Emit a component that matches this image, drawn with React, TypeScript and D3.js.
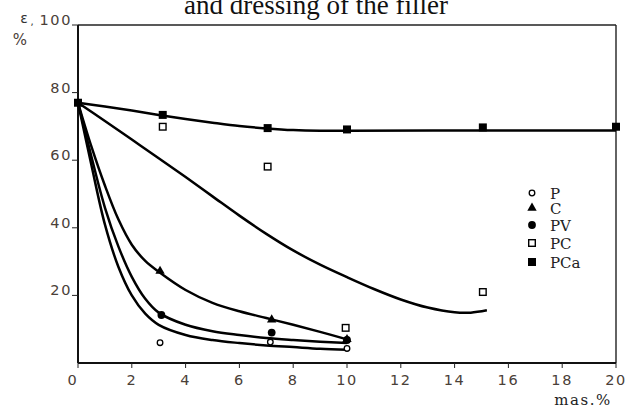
import React from "react";
import * as d3 from "d3";

const W = 632;
const H = 408;

// axis ticks
const xTicks = [0, 2, 4, 6, 8, 10, 12, 14, 16, 18, 20];
const yTicks = [20, 40, 60, 80, 100];

// fitted curves (x = mas.%, y = ε %)
const curveP: [number, number][] = [
  [0, 77], [0.5, 58.5], [1, 41], [1.5, 28.5], [2, 20], [2.5, 14.6], [3, 11.3],
  [4, 8.3], [5, 6.8], [6, 5.9], [7, 5.2], [8, 4.7], [9, 4.2], [10, 3.9],
];
const curvePV: [number, number][] = [
  [0, 77], [0.5, 61], [1, 46], [1.5, 34.5], [2, 25.5], [2.5, 19], [3, 14.9],
  [4, 11.3], [5, 9.4], [6, 8.3], [7, 7.4], [8, 6.8], [9, 6.3], [10, 5.9],
];
const curveC: [number, number][] = [
  [0, 77], [0.5, 64], [1, 52.5], [1.5, 42.5], [2, 35], [2.5, 30.2], [3, 27],
  [4, 21.6], [5, 17.8], [6, 15.3], [7, 13.3], [8, 11.3], [9, 9.2], [10, 7],
];
const curvePC: [number, number][] = [
  [0, 77], [1, 71.6], [2, 66.1], [3, 60.6], [4, 55], [5, 49.3], [6, 43.6], [7, 38.2],
  [8, 33.3], [9, 29.1], [10, 25.4], [11, 21.9], [12, 18.8], [13, 16.4], [14, 15],
  [14.6, 14.9], [15.2, 15.6],
];
const curvePCa: [number, number][] = [
  [0, 77], [1, 75.9], [2, 74.7], [3, 73.4], [4, 72.2], [5, 71.1], [6, 70.1], [7, 69.4],
  [8, 68.9], [9, 68.7], [10, 68.7], [15, 68.8], [20, 68.8],
];

// measured points
const ptsP: [number, number][] = [[3.05, 6.0], [7.15, 6.2], [10, 4.3]];
const ptsC: [number, number][] = [[3.05, 27.2], [7.2, 12.8], [10, 7]];
const ptsPV: [number, number][] = [[3.1, 14.2], [7.2, 9], [10, 6.8]];
const ptsPC: [number, number][] = [[3.15, 69.9], [7.05, 58.1], [9.95, 10.4], [15.05, 21]];
const ptsPCa: [number, number][] = [[0, 77], [3.15, 73.4], [7.05, 69.5], [10, 69.1], [15.05, 69.7], [20, 69.9]];

const legendNames = ["P", "C", "PV", "PC", "PCa"];

const x = d3.scaleLinear().domain([0, 20]).range([78, 616]);
const y = d3.scaleLinear().domain([0, 100]).range([363, 25]);

const line = d3
  .line<[number, number]>()
  .x((d) => x(d[0]))
  .y((d) => y(d[1]))
  .curve(d3.curveCatmullRom.alpha(0.5));

const tri = d3.symbol().type(d3.symbolTriangle).size(38)() as string;

function Marker({ kind, cx, cy }: { kind: string; cx: number; cy: number }) {
  if (kind === "P")
    return <circle cx={cx} cy={cy} r={2.8} fill="#fff" stroke="#000" strokeWidth={1.3} />;
  if (kind === "PV") return <circle cx={cx} cy={cy} r={3.9} fill="#000" />;
  if (kind === "C") return <path d={tri} transform={`translate(${cx},${cy})`} fill="#000" />;
  if (kind === "PC")
    return <rect x={cx - 3.3} y={cy - 3.3} width={6.6} height={6.6} fill="#fff" stroke="#000" strokeWidth={1.4} />;
  return <rect x={cx - 4} y={cy - 4} width={8} height={8} fill="#000" />;
}

const tickFont = { fontFamily: "DejaVu Sans", fontSize: 14.5, letterSpacing: 1.6, fill: "#4a4038" };

export default function App() {
  const curves: [string, [number, number][]][] = [
    ["P", curveP],
    ["PV", curvePV],
    ["C", curveC],
    ["PC", curvePC],
    ["PCa", curvePCa],
  ];
  const points: [string, [number, number][]][] = [
    ["P", ptsP],
    ["C", ptsC],
    ["PV", ptsPV],
    ["PC", ptsPC],
    ["PCa", ptsPCa],
  ];
  const legendY = [193, 208, 225, 243, 262];
  return (
    <svg
      width={W}
      height={H}
      style={{ position: "absolute", left: 0, top: 0, background: "#fff" }}
    >
      <rect width={W} height={H} fill="#fff" />
      {/* title fragment */}
      <text x={316} y={14} textAnchor="middle" fontFamily="Liberation Serif" fontSize={27} fill="#111">
        and dressing of the filler
      </text>

      {/* frame */}
      <line x1={x(0)} x2={x(20)} y1={y(100)} y2={y(100)} stroke="#222" strokeWidth={1.4} />
      <line x1={x(20)} x2={x(20)} y1={y(100)} y2={y(0)} stroke="#222" strokeWidth={1.4} />
      <line x1={x(0)} x2={x(0)} y1={y(100)} y2={y(0)} stroke="#111" strokeWidth={2} />
      <line x1={x(0)} x2={x(20)} y1={y(0)} y2={y(0)} stroke="#111" strokeWidth={2} />

      {/* y ticks */}
      {yTicks.map((t) => (
        <g key={"y" + t}>
          <line x1={x(0) - 6} x2={x(0)} y1={y(t)} y2={y(t)} stroke="#222" strokeWidth={1} />
          <text x={x(0) - 6} y={y(t)} textAnchor="end" {...tickFont}>
            {t}
          </text>
        </g>
      ))}
      {/* x ticks */}
      {xTicks.map((t) => (
        <g key={"x" + t}>
          <line x1={x(t)} x2={x(t)} y1={y(0)} y2={y(0) + 5} stroke="#222" strokeWidth={1} />
          <text x={x(t) + (t === 0 ? -5 : 0)} y={385} textAnchor="middle" {...tickFont}>
            {t}
          </text>
        </g>
      ))}

      {/* axis labels */}
      <text x={24} y={23} textAnchor="middle" fontFamily="DejaVu Sans" fontSize={14} fill="#333">
        ε
      </text>
      <text x={32} y={25} textAnchor="middle" fontFamily="DejaVu Sans" fontSize={10} fill="#333">
        ,
      </text>
      <text x={20} y={45} textAnchor="middle" fontFamily="DejaVu Sans" fontSize={15} fill="#4a4038">
        %
      </text>
      <text x={583} y={405} textAnchor="middle" fontFamily="DejaVu Serif" fontSize={15} letterSpacing={1.5} fill="#222">
        mas.%
      </text>

      {/* curves */}
      {curves.map(([k, c]) => (
        <path key={"c" + k} d={line(c) as string} fill="none" stroke="#000" strokeWidth={2.5} />
      ))}

      {/* points */}
      {points.map(([k, ps]) =>
        ps.map((p, i) => <Marker key={k + i} kind={k} cx={x(p[0])} cy={y(p[1])} />)
      )}

      {/* legend */}
      {legendNames.map((n, i) => (
        <g key={"lg" + n}>
          <Marker kind={n} cx={532} cy={legendY[i]} />
          <text x={550} y={legendY[i] + 5.5} fontFamily="DejaVu Serif" fontSize={15} fill="#222">
            {n}
          </text>
        </g>
      ))}
    </svg>
  );
}
